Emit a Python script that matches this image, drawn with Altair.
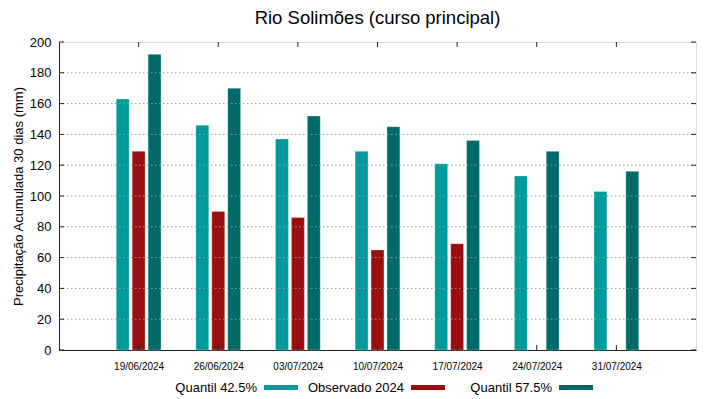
import altair as alt
import pandas as pd

dates = ["19/06/2024", "26/06/2024", "03/07/2024", "10/07/2024",
         "17/07/2024", "24/07/2024", "31/07/2024"]
q425 = [163, 146, 137, 129, 121, 113, 103]
obs = [129, 90, 86, 65, 69, None, None]
q575 = [192, 170, 152, 145, 136, 129, 116]

series_names = ["Quantil 42.5%", "Observado 2024", "Quantil 57.5%"]
series_colors = ["#009a9a", "#990e0e", "#006a68"]
series_values = [q425, obs, q575]

rows = []
for si, (name, vals) in enumerate(zip(series_names, series_values)):
    for gi, v in enumerate(vals):
        if v is None:
            continue
        rows.append({"pos": gi + 1, "serie": name, "sidx": si, "valor": v})
df = pd.DataFrame(rows)

W, H = 637, 308
FONT = "Liberation Sans"

xscale = alt.Scale(domain=[0, 8], nice=False, zero=False)
yscale = alt.Scale(domain=[0, 200], nice=False)

label_expr = "[" + ",".join(f"'{d}'" for d in dates) + "][datum.value - 1]"

xaxis = alt.Axis(
    values=list(range(1, 8)), labelExpr=label_expr, title=None,
    grid=False, ticks=False, labelFontSize=10, labelPadding=11,
    labelOverlap=False, labelFont=FONT, labelColor="#000", domainColor="#222")
yaxis = alt.Axis(
    values=list(range(0, 201, 20)), title="Precipitação Acumulada 30 dias (mm)",
    titleFont=FONT, titleFontSize=13, titleFontWeight="normal", titleColor="#000",
    titlePadding=4, labelFont=FONT, labelFontSize=13, labelColor="#000",
    ticks=False, labelPadding=8, domainColor="#222", labelOverlap=False,
    grid=False)

bars = alt.Chart(df).transform_calculate(
    x0="datum.pos + (datum.sidx - 1) * 0.2 - 0.081",
    x1="datum.pos + (datum.sidx - 1) * 0.2 + 0.081",
).mark_bar(stroke="#ffffff", strokeOpacity=0.35, strokeWidth=0.8).encode(
    x=alt.X("x0:Q", scale=xscale, axis=xaxis),
    x2="x1:Q",
    y=alt.Y("valor:Q", scale=yscale, axis=yaxis),
    y2=alt.datum(0),
    color=alt.Color("serie:N", scale=alt.Scale(domain=series_names, range=series_colors), legend=None),
)

gridvals = pd.DataFrame({"v": list(range(20, 200, 20))})
grid = alt.Chart(gridvals).mark_rule(color="#999", strokeDash=[1.5, 2.5], strokeWidth=1).encode(
    y=alt.Y("v:Q", scale=yscale, axis=yaxis), x=alt.value(0), x2=alt.value(W))

yt = pd.DataFrame({"v": list(range(0, 201, 20))})
ytick_r = alt.Chart(yt).mark_rule(color="#222").encode(
    y=alt.Y("v:Q", scale=yscale, axis=yaxis), x=alt.value(W - 5), x2=alt.value(W))
ytick_l = alt.Chart(yt).mark_rule(color="#222").encode(
    y=alt.Y("v:Q", scale=yscale, axis=yaxis), x=alt.value(0), x2=alt.value(5))

xt = pd.DataFrame({"p": list(range(1, 8))})
xtick_t = alt.Chart(xt).mark_rule(color="#222").encode(
    x=alt.X("p:Q", scale=xscale, axis=xaxis), y=alt.value(0), y2=alt.value(5))
xtick_b = alt.Chart(xt).mark_rule(color="#222").encode(
    x=alt.X("p:Q", scale=xscale, axis=xaxis), y=alt.value(H - 5), y2=alt.value(H))

one = pd.DataFrame({"a": [0]})

# manual legend (gnuplot style: label then sample)
legend_layers = []
label_right = [198, 345, 493]
for name, color, lx in zip(series_names, series_colors, label_right):
    legend_layers.append(
        alt.Chart(one).mark_text(align="right", baseline="alphabetic", fontSize=13,
                                 font=FONT, color="#000").encode(
            x=alt.value(lx), y=alt.value(H + 42), text=alt.value(name)))
    legend_layers.append(
        alt.Chart(one).mark_rect(color=color).encode(
            x=alt.value(lx + 7), x2=alt.value(lx + 41),
            y=alt.value(H + 35), y2=alt.value(H + 40)))

chart = alt.layer(bars, grid, ytick_l, ytick_r, xtick_t, xtick_b,
                  *legend_layers).properties(
    width=W, height=H,
    title=alt.TitleParams("Rio Solimões (curso principal)", font=FONT, fontSize=18.5,
                          fontWeight="normal", color="#000", anchor="middle",
                          offset=9),
    autosize=alt.AutoSizeParams(type="none"),
    padding={"left": 51, "top": 34, "right": 15, "bottom": 46},
).configure_view(stroke="#222", strokeWidth=1).configure(background="white")

chart.save("out.html", embed_options={"renderer": "svg", "actions": False})
